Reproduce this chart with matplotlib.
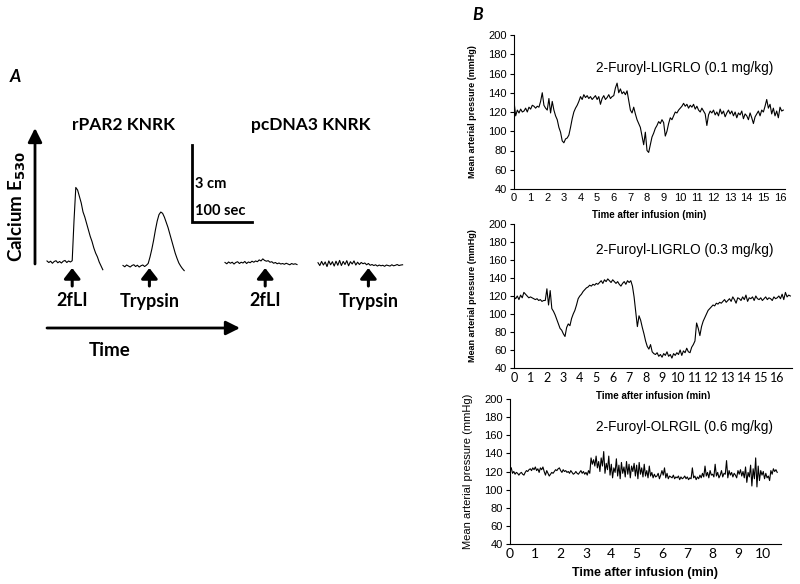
import matplotlib
matplotlib.use("Agg")
import matplotlib.pyplot as plt
import numpy as np

# ---------------- panel A: calcium traces (signal in cm, one sample / 3 s)
trace_step_sec = 3.0
par2_2fli = [0.04, -0.02, 0.03, -0.05, 0.02, 0.05, -0.03, 0.02, -0.04, 0.03, 0.06, -0.02,
             0.04, 0.0, 0.05, 1.6, 2.9, 2.8, 2.55, 2.3, 1.95, 1.75, 1.5, 1.25, 1.0, 0.8,
             0.55, 0.35, 0.2, 0.0, -0.15, -0.3]
par2_trypsin = [0.02, -0.03, 0.04, 0.0, -0.04, 0.02, 0.05, -0.02, 0.03, -0.04, 0.01, 0.04,
                -0.02, 0.03, 0.1, 0.35, 0.65, 1.0, 1.4, 1.75, 2.0, 2.1, 2.05, 1.9, 1.7, 1.5,
                1.25, 1.0, 0.75, 0.5, 0.3, 0.12, 0.0, -0.1, -0.18]
pc_2fli = [0.02, -0.03, 0.04, -0.01, 0.03, -0.04, 0.02, 0.05, -0.02, 0.03, 0.0, 0.06, -0.02,
           0.04, 0.01, 0.07, 0.03, 0.08, 0.05, 0.12, 0.08, 0.16, 0.1, 0.07, 0.09, 0.03, 0.05,
           -0.01, 0.02, -0.03, 0.0, -0.04, -0.02, -0.05, -0.01, -0.04, -0.07, -0.02, -0.05,
           -0.03, -0.06]
pc_trypsin = [0.05, -0.06, 0.1, -0.04, 0.08, -0.1, 0.12, -0.03, 0.09, -0.08, 0.11, -0.05,
              0.14, -0.06, 0.1, -0.02, 0.13, -0.07, 0.09, 0.0, 0.12, -0.04, 0.07, -0.02, 0.06,
              0.01, 0.04, -0.03, 0.02, -0.05, -0.02, -0.06, -0.03, -0.08, -0.04, -0.07, -0.05,
              -0.09, -0.04, -0.06, -0.08, -0.03, -0.07, -0.05, -0.02, -0.06, -0.04, -0.03]
trace_labels = ["2fLI", "Trypsin", "2fLI", "Trypsin"]
agonist_sec = [42, 44, 67, 84]      # time of addition inside each trace
group_titles = ["rPAR2 KNRK", "pcDNA3 KNRK"]
scale_cm, scale_sec = 3, 100

# ---------------- panel B: mean arterial pressure (mmHg), one sample / 0.1 min
map_step_min = 0.1
map_01 = [131, 116, 122, 119, 123, 120, 121, 124, 120, 125,
          123, 127, 126, 124, 126, 125, 131, 140, 127, 124,
          122, 134, 119, 131, 122, 116, 112, 104, 99, 90,
          88, 92, 93, 96, 104, 113, 120, 124, 127, 131,
          136, 133, 138, 135, 137, 134, 136, 133, 135, 137,
          133, 136, 128, 134, 137, 133, 135, 138, 134, 136,
          137, 145, 150, 140, 144, 139, 141, 138, 142, 132,
          122, 119, 125, 118, 112, 108, 104, 95, 86, 99,
          80, 78, 86, 94, 98, 103, 106, 110, 108, 112,
          109, 95, 100, 108, 114, 112, 116, 120, 119, 122,
          124, 126, 129, 126, 128, 124, 127, 125, 128, 123,
          126, 122, 120, 124, 121, 118, 106, 117, 121, 119,
          122, 117, 120, 116, 123, 118, 121, 115, 119, 122,
          118, 121, 116, 120, 114, 119, 117, 121, 113, 118,
          116, 112, 119, 114, 108, 115, 118, 121, 116, 122,
          120, 126, 133, 124, 128, 118, 124, 116, 121, 114,
          125, 121, 122]
map_03 = [119, 117, 120, 116, 121, 118, 124, 122, 120, 118,
          119, 118, 117, 116, 117, 115, 116, 114, 115, 115,
          128, 110, 126, 106, 103, 99, 94, 89, 84, 82,
          78, 75, 85, 89, 87, 95, 100, 104, 110, 117,
          120, 122, 125, 127, 129, 130, 132, 131, 133, 132,
          134, 133, 135, 137, 134, 138, 136, 139, 137, 135,
          138, 136, 134, 136, 133, 131, 134, 136, 133, 137,
          135, 137, 131, 119, 103, 86, 98, 93, 85, 78,
          70, 64, 61, 66, 58, 56, 55, 57, 53, 55,
          52, 56, 54, 58, 53, 55, 51, 56, 54, 57,
          55, 60, 54, 59, 57, 62, 58, 57, 63, 66,
          70, 90, 84, 76, 86, 92, 96, 100, 104, 106,
          108, 110, 109, 112, 111, 113, 112, 114, 116, 113,
          115, 117, 114, 119, 116, 112, 118, 117, 115, 119,
          116, 121, 114, 118, 117, 119, 115, 120, 117, 116,
          118, 115, 117, 119, 116, 118, 117, 115, 119, 117,
          118, 120, 117, 122, 116, 124, 119, 121, 120]
# control peptide, one sample / 0.05 min
ctrl_step_min = 0.05
map_ctrl = [125, 124, 118, 120, 117, 119, 118, 116, 118, 119, 117, 116, 119, 121, 120, 122, 123, 121, 124, 122,
            125, 121, 123, 119, 124, 122, 125, 120, 116, 121, 118, 115, 117, 119, 118, 120, 122, 121, 123, 124,
            121, 119, 122, 120, 121, 119, 120, 118, 121, 119, 117, 118, 120, 118, 117, 119, 121, 118, 120, 117,
            119, 116, 121, 118, 135, 128, 133, 126, 137, 124, 131, 120, 135, 126, 142, 118, 129, 122, 137, 116,
            128, 113, 124, 119, 134, 115, 127, 112, 130, 118, 125, 114, 131, 117, 128, 113, 126, 120, 129, 115,
            127, 112, 130, 117, 124, 114, 128, 115, 121, 113, 126, 115, 119, 113, 117, 114, 115, 118, 112, 116,
            121, 116, 124, 113, 118, 112, 115, 114, 113, 116, 112, 114, 113, 115, 111, 114, 112, 113, 115, 112,
            114, 111, 113, 112, 124, 113, 115, 111, 114, 112, 116, 113, 118, 114, 126, 115, 119, 113, 121, 116,
            117, 114, 128, 115, 119, 113, 116, 121, 114, 118, 117, 132, 113, 121, 116, 119, 114, 118, 116, 113,
            121, 117, 122, 115, 120, 113, 125, 108, 119, 114, 127, 104, 123, 112, 135, 103, 126, 110, 121, 116,
            120, 112, 118, 113, 115, 110, 121, 117, 123, 120, 122, 119]
map_titles = ["2-Furoyl-LIGRLO (0.1 mg/kg)", "2-Furoyl-LIGRLO (0.3 mg/kg)", "2-Furoyl-OLRGIL (0.6 mg/kg)"]
map_yticks = [40, 60, 80, 100, 120, 140, 160, 180, 200]

fig = plt.figure(figsize=(8, 5.84), dpi=100)
CAL = "Lato"
ARIAL = "Liberation Sans"

# ---------------- panel A, drawn in pixel-like units
ax_a = fig.add_axes([0, 0, 0.55, 1])
ax_a.set_xlim(0, 440)
ax_a.set_ylim(584, 0)
ax_a.axis("off")
px_per_sec, px_per_cm = 0.6, 25.7
traces = [par2_2fli, par2_trypsin, pc_2fli, pc_trypsin]
origins = [(47, 262), (123, 266), (225, 263), (318, 264)]
for sig, (x0, y0), t_add, lab in zip(traces, origins, agonist_sec, trace_labels):
    t = np.arange(len(sig)) * trace_step_sec
    ax_a.plot(x0 + t * px_per_sec, y0 - np.array(sig) * px_per_cm, color="black", lw=0.8)
    xa = x0 + t_add * px_per_sec
    ax_a.annotate("", xy=(xa, 268), xytext=(xa, 286),
                  arrowprops=dict(arrowstyle="-|>,head_width=0.35,head_length=0.45",
                                  lw=2.2, color="black", mutation_scale=14, shrinkA=0, shrinkB=0))
    ax_a.text(xa, 301, lab, ha="center", va="center", fontsize=13,
              fontweight="bold", family=CAL)
ax_a.text(124, 125, group_titles[0], ha="center", va="center", fontsize=12.5,
          fontweight="bold", family=CAL)
ax_a.text(311, 125, group_titles[1], ha="center", va="center", fontsize=12.5,
          fontweight="bold", family=CAL)
ax_a.text(15, 77, "A", ha="center", va="center", fontsize=12.5, fontweight="bold",
          style="italic", family=CAL)
# calcium axis arrow
ax_a.annotate("", xy=(35, 128), xytext=(35, 264),
              arrowprops=dict(arrowstyle="-|>,head_width=0.3,head_length=0.6",
                              lw=2, color="black", mutation_scale=14, shrinkA=0, shrinkB=0))
ax_a.text(17, 207, r"Calcium E$_{\mathbf{530}}$", rotation=90, ha="center", va="center",
          fontsize=13.5, fontweight="bold", family=CAL)
# time arrow
ax_a.annotate("", xy=(240, 328), xytext=(47, 328),
              arrowprops=dict(arrowstyle="-|>,head_width=0.3,head_length=0.6",
                              lw=2, color="black", mutation_scale=14, shrinkA=0, shrinkB=0))
ax_a.text(110, 351, "Time", ha="center", va="center", fontsize=13.5, fontweight="bold", family=CAL)
# scale bar
bx, by = 192, 222
ax_a.plot([bx, bx, bx + scale_sec * px_per_sec], [by - scale_cm * px_per_cm, by, by],
          color="black", lw=2, solid_joinstyle="miter")
ax_a.text(bx + 3, 184, f"{scale_cm} cm", ha="left", va="center", fontsize=10.5,
          fontweight="bold", family=CAL)
ax_a.text(bx + 3, 211, f"{scale_sec} sec", ha="left", va="center", fontsize=10.5,
          fontweight="bold", family=CAL)

fig.text(478 / 800, 1 - 15 / 584, "B", ha="center", va="center", fontsize=12.5,
         fontweight="bold", style="italic", family=CAL)

# ---------------- panel B
specs = [
    # rect, xmax, series, step, xtick font, xtick size, xlabel size, ylabel bold/size
    ([514 / 800, 1 - 189 / 584, 271 / 800, 154 / 584], 16.3, map_01, map_step_min,
     ARIAL, 8, 7, True, 6.5),
    ([514 / 800, 1 - 368 / 584, 278 / 800, 144 / 584], 16.9, map_03, map_step_min,
     CAL, 9, 7, True, 6.5),
    ([510 / 800, 1 - 544 / 584, 271 / 800, 145 / 584], 10.7, map_ctrl, ctrl_step_min,
     CAL, 10, 9, False, 8),
]
ann_y = [68, 250, 427]
for (rect, xmax, vals, step, xfont, xsize, xlsize, ybold, ysize), title, ay in zip(
        specs, map_titles, ann_y):
    ax = fig.add_axes(rect)
    t = np.arange(len(vals)) * step
    ax.plot(t, vals, color="black", lw=0.8)
    ax.set_xlim(0, xmax)
    ax.set_ylim(40, 200)
    ax.set_yticks(map_yticks)
    ax.set_xticks(np.arange(0, int(xmax) + 1))
    for s in ["top", "right"]:
        ax.spines[s].set_visible(False)
    for s in ["left", "bottom"]:
        ax.spines[s].set_linewidth(0.8)
    ax.tick_params(axis="y", length=3, width=0.8, pad=2, labelsize=8)
    ax.tick_params(axis="x", length=0, pad=3, labelsize=xsize)
    for lab in ax.get_yticklabels():
        lab.set_family(ARIAL)
    for lab in ax.get_xticklabels():
        lab.set_family(xfont)
    ax.set_xlabel("Time after infusion (min)", fontsize=xlsize, fontweight="bold",
                  family=ARIAL, labelpad=5)
    ax.set_ylabel("Mean arterial pressure (mmHg)", fontsize=ysize,
                  fontweight="bold" if ybold else "normal", family=ARIAL, labelpad=8)
    fig.text(685 / 800, 1 - ay / 584, title, ha="center", va="center", fontsize=9.8,
             family=ARIAL)

fig.savefig("out.png", dpi=100)
